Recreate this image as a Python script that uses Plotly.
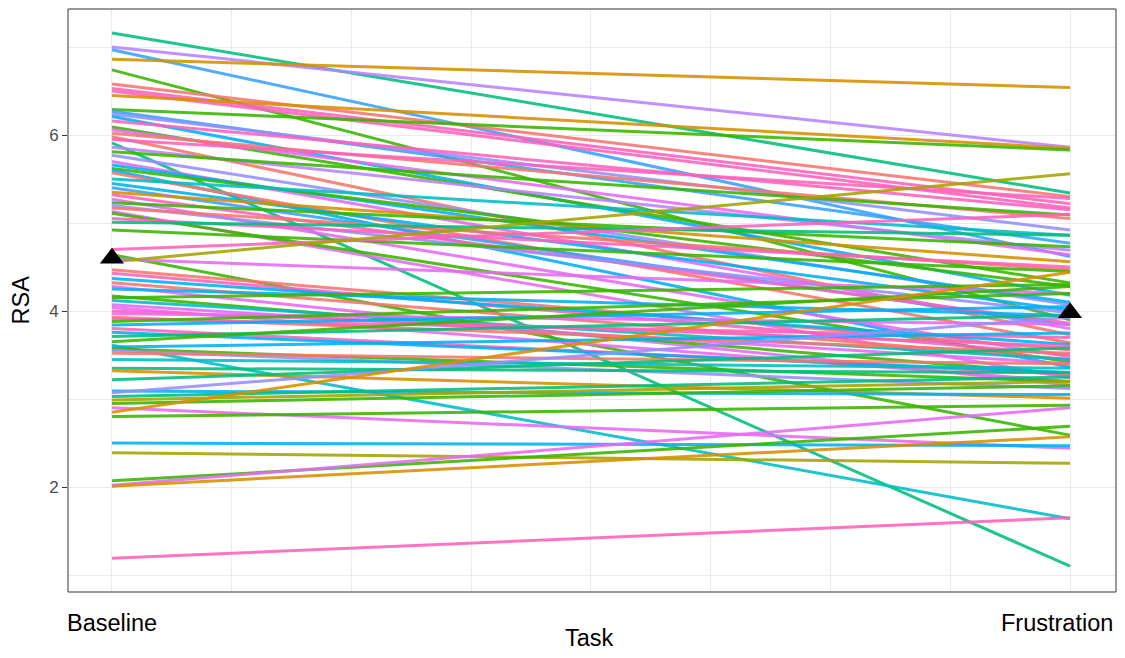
import plotly.graph_objects as go

# ---- data ----
task_labels = ["Baseline", "Frustration"]
baseline = [7.16, 7.00, 6.97, 6.86, 6.74, 6.58, 6.53, 6.50, 6.45, 6.29,
            6.27, 6.24, 6.21, 6.16, 6.09, 6.06, 6.02, 5.98, 5.95, 5.91,
            5.86, 5.81, 5.77, 5.70, 5.66, 5.62, 5.60, 5.57, 5.50, 5.45,
            5.40, 5.35, 5.32, 5.27, 5.23, 5.20, 5.17, 5.13, 5.11, 5.05,
            5.01, 4.92, 4.70, 4.64, 4.59, 4.56, 4.47, 4.43, 4.37, 4.32,
            4.28, 4.25, 4.17, 4.15, 4.12, 4.07, 4.04, 4.00, 3.97, 3.93,
            3.91, 3.88, 3.84, 3.80, 3.76, 3.71, 3.65, 3.61, 3.59, 3.57,
            3.55, 3.52, 3.45, 3.35, 3.32, 3.22, 3.09, 3.07, 3.03, 2.99,
            2.95, 2.90, 2.85, 2.80, 2.50, 2.39, 2.07, 2.02, 2.01, 1.19]
frustration = [5.34, 5.86, 4.62, 6.54, 3.90, 5.30, 5.22, 5.17, 5.85, 5.83,
               4.77, 4.92, 4.18, 5.15, 4.32, 4.64, 5.05, 3.73, 5.28, 1.10,
               4.69, 5.09, 4.07, 3.80, 4.10, 4.28, 3.36, 3.64, 4.86, 4.01,
               3.84, 4.56, 3.86, 3.48, 4.73, 3.98, 4.47, 3.24, 3.42, 4.50,
               4.86, 4.45, 5.10, 2.59, 4.20, 5.56, 3.56, 3.50, 3.62, 3.45,
               3.16, 3.95, 3.28, 4.30, 3.45, 3.40, 3.20, 3.60, 3.85, 3.52,
               3.70, 4.20, 4.05, 3.28, 3.30, 3.95, 4.28, 1.64, 3.75, 3.20,
               3.12, 3.40, 3.35, 3.30, 3.01, 3.58, 3.05, 3.93, 3.25, 3.20,
               3.15, 2.44, 4.44, 2.93, 2.47, 2.27, 2.69, 2.90, 2.57, 1.65]
line_colors = ["#00BF7D", "#B983FF", "#35A2FF", "#D89000", "#39B600", "#F8766D", "#FF62BC", "#FF62BC", "#D89000", "#39B600",
               "#35A2FF", "#9590FF", "#00B0F6", "#FF62BC", "#39B600", "#E76BF3", "#F8766D", "#F8766D", "#FF62BC", "#00BF7D",
               "#B983FF", "#39B600", "#9590FF", "#E76BF3", "#00B0F6", "#39B600", "#00B0F6", "#F8766D", "#00BFC4", "#00B0F6",
               "#35A2FF", "#D89000", "#FF62BC", "#E76BF3", "#39B600", "#9590FF", "#F8766D", "#E76BF3", "#39B600", "#FF62BC",
               "#00BF7D", "#39B600", "#FF62BC", "#39B600", "#E76BF3", "#A3A500", "#F8766D", "#FF62BC", "#00B0F6", "#F8766D",
               "#E76BF3", "#00B0F6", "#39B600", "#39B600", "#00BFC4", "#E76BF3", "#E76BF3", "#FF62BC", "#E76BF3", "#F8766D",
               "#FF62BC", "#39B600", "#00B0F6", "#FF62BC", "#00B0F6", "#00BF7D", "#39B600", "#00BFC4", "#00B0F6", "#39B600",
               "#9590FF", "#F8766D", "#00BFC4", "#00BF7D", "#D89000", "#00BF7D", "#00B0F6", "#9590FF", "#00BF7D", "#A3A500",
               "#39B600", "#E76BF3", "#D89000", "#39B600", "#00B0F6", "#A3A500", "#39B600", "#E76BF3", "#D89000", "#FF62BC"]
mean_rsa = [4.60, 3.98]

fig = go.Figure()
for b, f, c in zip(baseline, frustration, line_colors):
    fig.add_trace(go.Scatter(x=[0, 1], y=[b, f], mode="lines", opacity=0.88,
                             line=dict(color=c, width=3), showlegend=False,
                             hoverinfo="skip"))

fig.add_trace(go.Scatter(x=[0, 1], y=mean_rsa, mode="markers",
                         marker=dict(symbol="triangle-up", size=21, color="black"),
                         showlegend=False))

grid = "#EBEBEB"
fig.update_layout(
    width=1110, height=642,
    margin=dict(l=60, r=2, t=1, b=58, autoexpand=False),
    plot_bgcolor="white", paper_bgcolor="white",
    font=dict(family="Liberation Sans, Arial, sans-serif", color="#1A1A1A"),
    xaxis=dict(range=[-0.0459, 1.048], tickvals=[i / 8 for i in range(9)],
               showticklabels=False, ticks="", showgrid=True, gridcolor=grid,
               gridwidth=1, zeroline=False, showline=False, automargin=False),
    yaxis=dict(range=[0.807, 7.432], tickvals=[2, 4, 6], ticktext=["2", "4", "6"],
               ticks="outside", ticklen=5, tickcolor="#333333",
               tickfont=dict(size=17, color="#4D4D4D"),
               showgrid=True, gridcolor=grid, gridwidth=1, zeroline=False,
               minor=dict(tick0=0, dtick=1, showgrid=True, gridcolor=grid, ticks=""),
               showline=False, automargin=False),
    shapes=[dict(type="rect", xref="paper", yref="paper", x0=0, x1=1, y0=0, y1=1,
                 line=dict(color="#333333", width=1), fillcolor="rgba(0,0,0,0)",
                 layer="above")],
    annotations=[
        dict(text=task_labels[0], x=0, xref="x", y=-0.053, yref="paper",
             xanchor="center", yanchor="middle", showarrow=False,
             font=dict(size=23.5, color="black")),
        dict(text=task_labels[1], x=0.999, xref="paper", y=-0.053, yref="paper",
             xanchor="right", yanchor="middle", showarrow=False,
             font=dict(size=23.5, color="black")),
        dict(text="Task", x=0.498, xref="paper", y=-0.0788, yref="paper",
             xanchor="center", yanchor="middle", showarrow=False,
             font=dict(size=23.5, color="black")),
        dict(text="RSA", x=-0.0458, xref="paper", y=0.5, yref="paper",
             xanchor="center", yanchor="middle", showarrow=False, textangle=-90,
             font=dict(size=23.5, color="black")),
    ],
)

fig.write_html("out.html")
